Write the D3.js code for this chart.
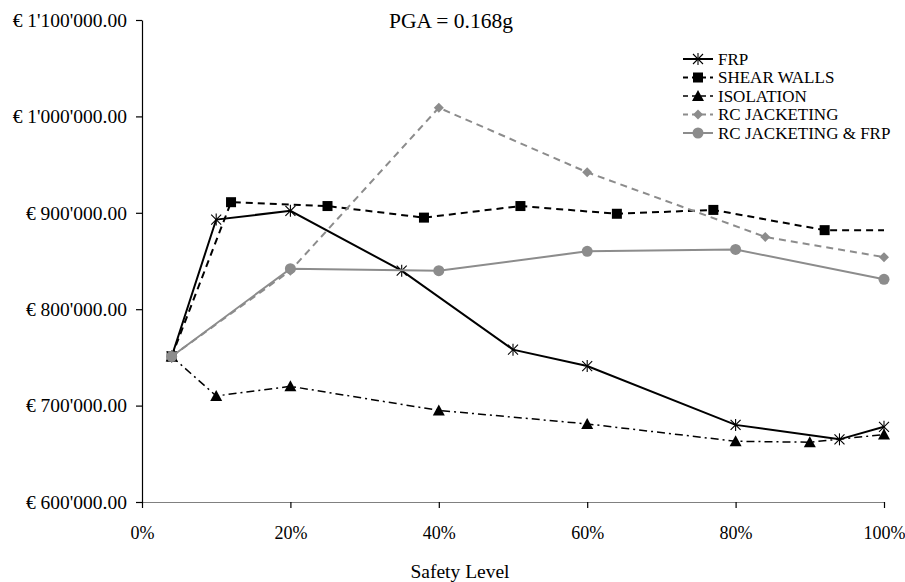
<!DOCTYPE html>
<html>
<head>
<meta charset="utf-8">
<script src="https://cdn.jsdelivr.net/npm/d3@7"></script>
<style>
  html, body { margin: 0; padding: 0; background: #fff; }
  svg text { font-family: "Liberation Serif", "Times New Roman", serif !important; fill: #000; }
</style>
</head>
<body>
<svg id="chart" width="905" height="582" font-family="Liberation Serif, serif"></svg>
<script>
// ---- data (safety level %, cost in €) ----
const title = "PGA = 0.168g";
const xAxisTitle = "Safety Level";
const yTicks = [600000, 700000, 800000, 900000, 1000000, 1100000];
const xTicks = [0, 20, 40, 60, 80, 100];

const frpX   = [4, 10, 20, 35, 50, 60, 80, 94, 100];
const frpY   = [751000, 893000, 902000, 840000, 758000, 741000, 680000, 665000, 678000];

const shearX = [4, 12, 25, 38, 51, 64, 77, 92, 100];
const shearY = [751000, 911000, 907000, 895000, 907000, 899000, 903000, 882000, 882000];

const isoX   = [4, 10, 20, 40, 60, 80, 90, 100];
const isoY   = [751000, 710000, 720000, 695000, 681000, 663000, 662000, 670000];

const rcjX   = [4, 20, 40, 60, 84, 100];
const rcjY   = [751000, 840000, 1009000, 942000, 875000, 854000];

const rcfX   = [4, 20, 40, 60, 80, 100];
const rcfY   = [751000, 842000, 840000, 860000, 862000, 831000];

const seriesNames = ["FRP", "SHEAR WALLS", "ISOLATION", "RC JACKETING", "RC JACKETING & FRP"];

// ---- styles ----
const FONT = "'Liberation Serif', 'Times New Roman', serif";
const styles = [
  { color: "#000", width: 2,   dash: null,      marker: "asterisk", skipLast: false },
  { color: "#000", width: 2,   dash: "7,5",     marker: "square",   skipLast: true  },
  { color: "#000", width: 1.5, dash: "8,4,2,4", marker: "triangle", skipLast: false },
  { color: "#8c8c8c", width: 2, dash: "7,5",    marker: "diamond",  skipLast: false },
  { color: "#8c8c8c", width: 2, dash: null,     marker: "circle",   skipLast: false }
];

const seriesData = [
  frpX.map((v, i) => [v, frpY[i]]),
  shearX.map((v, i) => [v, shearY[i]]),
  isoX.map((v, i) => [v, isoY[i]]),
  rcjX.map((v, i) => [v, rcjY[i]]),
  rcfX.map((v, i) => [v, rcfY[i]])
];

const svg = d3.select("#chart");
const mLeft = 142, mRight = 884, mTop = 20, mBottom = 502;

const x = d3.scaleLinear().domain([0, 100]).range([mLeft, mRight]);
const y = d3.scaleLinear().domain([600000, 1100000]).range([mBottom, mTop]);

const fmtMoney = v => "€ " + d3.format(",.2f")(v).replace(/,/g, "'");

// y axis
const yAxis = svg.append("g")
  .attr("transform", `translate(${mLeft},0)`)
  .call(d3.axisLeft(y).tickValues(yTicks).tickFormat(fmtMoney).tickSize(6).tickSizeOuter(0));
yAxis.attr("font-family", FONT);
yAxis.select(".domain").attr("stroke", "#000").attr("stroke-width", 1.2);
yAxis.selectAll(".tick line").attr("stroke", "#000").attr("stroke-width", 1.2);
yAxis.selectAll(".tick text").style("font-family", FONT).style("font-size", "19.5px").attr("x", -15);

// x axis
const xAxis = svg.append("g")
  .attr("transform", `translate(0,${mBottom})`)
  .call(d3.axisBottom(x).tickValues(xTicks).tickFormat(d => d + "%").tickSize(6).tickSizeOuter(0));
xAxis.attr("font-family", FONT);
xAxis.select(".domain").attr("stroke", "#808080").attr("stroke-width", 1.2);
xAxis.selectAll(".tick line").attr("stroke", "#000").attr("stroke-width", 1.2);
xAxis.selectAll(".tick text").style("font-family", FONT).style("font-size", "18px").attr("y", 24);

// axis title
svg.append("text").attr("x", 460).attr("y", 578).attr("text-anchor", "middle")
  .style("font-family", FONT).style("font-size", "19.5px").text(xAxisTitle);

// chart title
svg.append("text").attr("x", 451).attr("y", 28).attr("text-anchor", "middle")
  .style("font-family", FONT).style("font-size", "21.5px").text(title);

// markers
function drawMarker(g, type, cx, cy, color) {
  if (type === "asterisk") {
    const s = 5;
    const p = g.append("g").attr("stroke", color).attr("stroke-width", 1.1);
    p.append("line").attr("x1", cx - s).attr("y1", cy - s).attr("x2", cx + s).attr("y2", cy + s);
    p.append("line").attr("x1", cx - s).attr("y1", cy + s).attr("x2", cx + s).attr("y2", cy - s);
    p.append("line").attr("x1", cx).attr("y1", cy - s - 1).attr("x2", cx).attr("y2", cy + s + 1);
  } else if (type === "square") {
    g.append("rect").attr("x", cx - 5).attr("y", cy - 5).attr("width", 10).attr("height", 10).attr("fill", color);
  } else if (type === "triangle") {
    g.append("path").attr("d", `M${cx},${cy - 6}L${cx + 6},${cy + 5}L${cx - 6},${cy + 5}Z`).attr("fill", color);
  } else if (type === "diamond") {
    g.append("path").attr("d", `M${cx},${cy - 5}L${cx + 5},${cy}L${cx},${cy + 5}L${cx - 5},${cy}Z`).attr("fill", color);
  } else if (type === "circle") {
    g.append("circle").attr("cx", cx).attr("cy", cy).attr("r", 5.5).attr("fill", color);
  }
}

const line = d3.line().x(d => x(d[0])).y(d => y(d[1]));

seriesData.forEach((data, i) => {
  const st = styles[i];
  const g = svg.append("g");
  g.append("path").attr("d", line(data)).attr("fill", "none")
    .attr("stroke", st.color).attr("stroke-width", st.width)
    .attr("stroke-dasharray", st.dash);
  data.forEach((d, j) => {
    if (st.skipLast && j === data.length - 1) return;
    drawMarker(g, st.marker, x(d[0]), y(d[1]), st.color);
  });
});

// legend
const legend = svg.append("g");
seriesNames.forEach((name, i) => {
  const st = styles[i];
  const ly = 59 + i * 18.5;
  legend.append("line").attr("x1", 683).attr("x2", 713).attr("y1", ly).attr("y2", ly)
    .attr("stroke", st.color).attr("stroke-width", st.width)
    .attr("stroke-dasharray", st.dash ? "5,4" : null);
  drawMarker(legend, st.marker, 698, ly, st.color);
  legend.append("text").attr("x", 718).attr("y", ly + 5.5)
    .style("font-family", FONT).style("font-size", "17px").text(name);
});
</script>
</body>
</html>
